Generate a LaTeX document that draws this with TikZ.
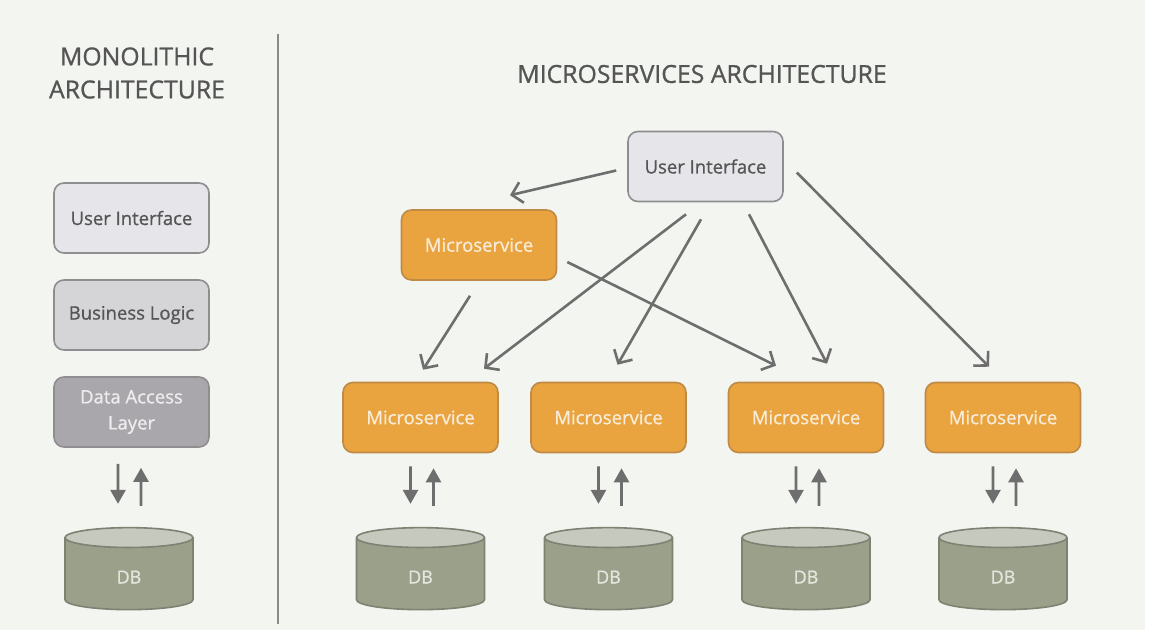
\documentclass[tikz,border=0pt]{standalone}
\usepackage{fontspec}
\setmainfont{Open Sans}
\newfontfamily\slidefont{Open Sans}[FakeBold=0.9]
\usetikzlibrary{shapes.geometric,arrows.meta,positioning}
\definecolor{SlideBg}{HTML}{F3F5F1}
\definecolor{TitleGray}{HTML}{555555}
\definecolor{DividerGray}{HTML}{8A8A8A}
\definecolor{BoxLine}{HTML}{8E8E90}
\definecolor{UIFill}{HTML}{E6E5E9}
\definecolor{BLFill}{HTML}{D5D4D7}
\definecolor{DALFill}{HTML}{A9A7AB}
\definecolor{DALText}{HTML}{EDEDED}
\definecolor{MSFill}{HTML}{E9A33F}
\definecolor{MSLine}{HTML}{BE8A45}
\definecolor{MSText}{HTML}{F8ECD8}
\definecolor{DBBody}{HTML}{9BA08B}
\definecolor{DBTop}{HTML}{C6C9BE}
\definecolor{DBLine}{HTML}{7D8272}
\definecolor{DBText}{HTML}{E3E6DC}
\definecolor{ArrowGray}{HTML}{6E6E6E}

\begin{document}
\begin{tikzpicture}[x=1pt,y=-1pt,
    title/.style={font=\slidefont\fontsize{24.8}{33}\selectfont, text=TitleGray, align=center},
    box/.style={draw=BoxLine, line width=1.6pt, rounded corners=10pt,
                minimum width=155pt, minimum height=70pt, inner sep=0pt,
                align=center, font=\slidefont\fontsize{18.5}{26}\selectfont, text=TitleGray},
    msbox/.style={box, draw=MSLine, fill=MSFill, text=MSText},
    dbcyl/.style={cylinder, shape border rotate=90, aspect=0.8, draw=DBLine,
                  line width=1.6pt, cylinder uses custom fill,
                  cylinder body fill=DBBody, cylinder end fill=DBTop,
                  minimum width=128pt, minimum height=82pt, inner sep=0pt,
                  font=\slidefont\fontsize{18}{20}\selectfont, text=DBText},
    conn/.style={draw=ArrowGray, line width=2.6pt,
                 -{Straight Barb[length=10pt,width=21pt]}},
    dbflow/.style={draw=ArrowGray, line width=2.6pt,
                   -{Triangle[length=14pt,width=15pt]}}]

  % slide background
  \useasboundingbox (0,0) rectangle (1164,644);
  \fill[white] (0,0) rectangle (1164,644);
  \fill[SlideBg] (0,0) rectangle (1145,630);
  \draw[DividerGray, line width=2pt] (278,34) -- (278,624);

  % titles
  \node[title] (monoTitle) at (137,73) {MONOLITHIC\\ARCHITECTURE};
  \node[title] (microTitle) at (702,74) {MICROSERVICES ARCHITECTURE};

  % monolithic stack
  \node[box, fill=UIFill] (monoUI) at (131.5,218) {User Interface};
  \node[box, fill=BLFill] (monoBL) at (131.5,315) {Business Logic};
  \node[box, fill=DALFill, text=DALText] (monoDAL) at (131.5,412) {Data Access\\Layer};
  \node[dbcyl] (monoDB) at (129,574) {\raisebox{-9.5pt}[0pt][0pt]{DB}};
  \draw[dbflow] ([xshift=-13.5pt,yshift=-16pt]monoDAL.south) -- ([xshift=-11pt,yshift=23pt]monoDB.north);
  \draw[dbflow] ([xshift=12pt,yshift=21pt]monoDB.north) -- ([xshift=9.5pt,yshift=-20pt]monoDAL.south);

  % microservices
  \node[box, fill=UIFill] (microUI) at (705.5,166.5) {User Interface};
  \node[msbox] (msTop) at (479,245) {Microservice};
  \foreach \i/\x in {1/420.5,2/608.5,3/806,4/1003} {
    \node[msbox] (ms\i) at (\x,417.5) {Microservice};
    \node[dbcyl] (db\i) at (\x,574) {\raisebox{-9.5pt}[0pt][0pt]{DB}};
    \draw[dbflow] ([xshift=-10pt,yshift=-13pt]ms\i.south) -- ([xshift=-10pt,yshift=23pt]db\i.north);
    \draw[dbflow] ([xshift=13pt,yshift=21pt]db\i.north) -- ([xshift=13pt,yshift=-15pt]ms\i.south);
  }

  % calls
  \draw[conn] ([xshift=-11pt,yshift=-4pt]microUI.west) -- ([xshift=31pt,yshift=14pt]msTop.north);
  \draw[conn] ([xshift=-19.5pt,yshift=-12pt]microUI.south) -- ([xshift=63.5pt,yshift=13pt]ms1.north);
  \draw[conn] ([xshift=-4.5pt,yshift=-17pt]microUI.south) -- ([xshift=9pt,yshift=17pt]ms2.north);
  \draw[conn] ([xshift=43.5pt,yshift=-12pt]microUI.south) -- ([xshift=21pt,yshift=18pt]ms3.north);
  \draw[conn] ([xshift=13pt,yshift=-6pt]microUI.east) -- ([xshift=-14pt,yshift=15pt]ms4.north);
  \draw[conn] ([xshift=-9pt,yshift=-15pt]msTop.south) -- ([xshift=2.5pt,yshift=12pt]ms1.north);
  \draw[conn] ([xshift=10pt,yshift=-17pt]msTop.east) -- ([xshift=-30pt,yshift=16pt]ms3.north);
\end{tikzpicture}
\end{document}
